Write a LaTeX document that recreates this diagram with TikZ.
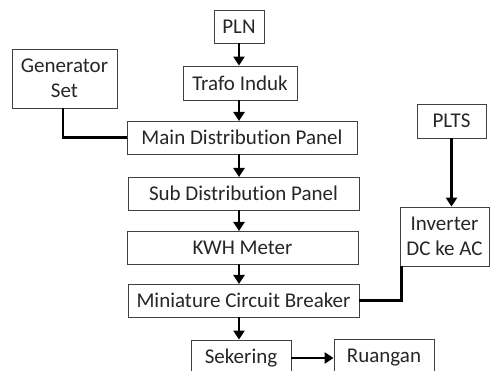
\documentclass[tikz,border=0pt]{standalone}
\usepackage{fontspec}
\setmainfont[Ligatures=NoCommon]{Carlito}
\usetikzlibrary{arrows.meta}
\begin{document}
\begin{tikzpicture}[x=1pt,y=-1pt,
  box/.style={draw=black!75,line width=0.8pt,inner sep=0pt,align=center,font=\fontsize{21}{25}\selectfont,text=black!85},
  arr/.style={line width=2.8pt,-{Triangle[length=9pt,width=11pt]}},
  link/.style={line width=2.8pt}]
\useasboundingbox (0,0) rectangle (490,371);
\clip (0,0) rectangle (490,371);
\node[box,minimum width=50pt,minimum height=33pt] (pln) at (239,26.5) {PLN};
\node[box,minimum width=114pt,minimum height=34pt] (trafo) at (240,83) {Trafo Induk};
\node[box,minimum width=230pt,minimum height=33pt] (main) at (242,137.5) {Main Distribution Panel};
\node[box,minimum width=105pt,minimum height=59pt] (gen) at (64.5,78.5) {Generator\\Set};
\node[box,minimum width=231pt,minimum height=33pt] (sub) at (243.5,193.5) {Sub Distribution Panel};
\node[box,minimum width=231pt,minimum height=33pt] (kwh) at (242.5,247.5) {KWH Meter};
\node[box,minimum width=231pt,minimum height=33pt] (mcb) at (243.5,300.5) {Miniature Circuit Breaker};
\node[box,minimum width=100pt,minimum height=36pt] (sek) at (241,358) {Sekering};
\node[box,minimum width=100pt,minimum height=38pt] (ruang) at (384,358) {Ruangan};
\node[box,minimum width=69pt,minimum height=34pt] (plts) at (451.5,121) {PLTS};
\node[box,minimum width=89pt,minimum height=59pt] (inv) at (444.5,236.5) {Inverter\\DC ke AC};
\draw[arr] (pln.south) -- (pln.south|-trafo.north);
\draw[arr] (239,100) -- (239,121);
\draw[arr] (239,154) -- (239,177);
\draw[arr] (239,210) -- (239,231);
\draw[arr] (239,264) -- (239,284);
\draw[arr] (239,317) -- (sek.north-|239,0);
\draw[arr] (sek.east) -- (ruang.west);
\draw[arr] (plts.south) -- (plts.south|-inv.north);
\draw[link] ([xshift=-1.5pt]gen.south) |- (main.west);
\draw[link] ([xshift=1.5pt]inv.south west) |- (mcb.east);
\end{tikzpicture}
\end{document}
